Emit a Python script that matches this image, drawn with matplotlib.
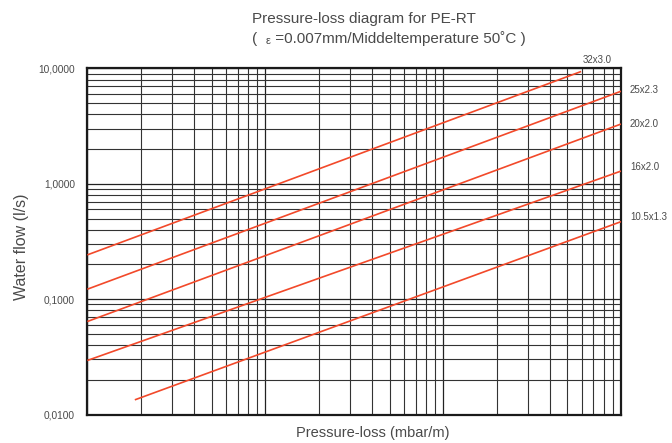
import matplotlib
matplotlib.use("Agg")
import matplotlib.pyplot as plt
from matplotlib.ticker import FixedLocator, LogLocator, NullFormatter

plt.rcParams['font.family'] = ['Liberation Sans', 'DejaVu Sans']

# ---- data ----
series_names = ["32x3.0", "25x2.3", "20x2.0", "16x2.0", "10.5x1.3"]
series_x = [
    [1.0, 597.0],
    [1.0, 1000.0],
    [1.0, 1000.0],
    [1.0, 1000.0],
    [1.85, 1000.0],
]
series_y = [
    [0.242, 9.42],
    [0.122, 6.35],
    [0.064, 3.30],
    [0.0294, 1.29],
    [0.0134, 0.47],
]
y_ticks = [0.01, 0.1, 1.0, 10.0]
y_tick_labels = ["0,0100", "0,1000", "1,0000", "10,0000"]
x_limits = [1.0, 1000.0]
y_limits = [0.01, 10.0]

# ---- style ----
W, H = 672, 443
fig = plt.figure(figsize=(W / 100, H / 100), dpi=100)
left, right, top, bottom = 87.3, 621.0, 68.5, 414.5
ax = fig.add_axes([left / W, 1 - bottom / H, (right - left) / W, (bottom - top) / H])

text_col = "#4a4a4a"
line_col = "#f2492a"
label_offsets = [(0.8, 8.4), (6.5, 0.8), (6.5, 0.0), (6.5, 2.8), (6.5, 3.6)]

ax.set_xscale("log")
ax.set_yscale("log")
ax.set_xlim(*x_limits)
ax.set_ylim(*y_limits)

ax.xaxis.set_major_locator(LogLocator(base=10, numticks=10))
ax.xaxis.set_minor_locator(LogLocator(base=10, subs=range(2, 10), numticks=100))
ax.yaxis.set_major_locator(FixedLocator(y_ticks))
ax.yaxis.set_minor_locator(LogLocator(base=10, subs=range(2, 10), numticks=100))
ax.xaxis.set_major_formatter(NullFormatter())
ax.xaxis.set_minor_formatter(NullFormatter())
ax.yaxis.set_minor_formatter(NullFormatter())
ax.set_yticklabels(y_tick_labels)

ax.grid(which="major", color="#222222", linewidth=0.9)
ax.grid(which="minor", color="#333333", linewidth=0.8)
ax.set_axisbelow(True)
ax.tick_params(which="both", length=0)
ax.tick_params(axis="y", labelsize=7.3, labelcolor=text_col, pad=9)

for sp in ax.spines.values():
    sp.set_linewidth(1.6)
    sp.set_color("#1a1a1a")

for name, xs, ys, off in zip(series_names, series_x, series_y, label_offsets):
    ax.plot(xs, ys, color=line_col, linewidth=1.2, solid_capstyle="butt", zorder=3)
    ax.annotate(name, xy=(xs[-1], ys[-1]), xytext=off, textcoords="offset points",
                ha="left", va="center", fontsize=7, color=text_col,
                annotation_clip=False)

ax.set_xlabel("Pressure-loss (mbar/m)", fontsize=10.5, color=text_col)
ax.xaxis.set_label_coords((373 - left) / (right - left), -(433 - bottom) / (bottom - top))
ax.xaxis.label.set_va("center")
ax.set_ylabel("Water flow (l/s)", fontsize=11.5, color=text_col)
ax.yaxis.set_label_coords(-(left - 22) / (right - left), (bottom - 247) / (bottom - top))
ax.yaxis.label.set_va("center")

# title, two left-aligned lines
fig.text(252 / W, 1 - 19 / H, "Pressure-loss diagram for PE-RT",
         fontsize=11, color=text_col, ha="left", va="center")
t1 = fig.text(252 / W, 1 - 46 / H, "(  ", fontsize=11, color=text_col,
              ha="left", va="bottom")
t2 = ax.annotate("ε", xy=(1, 0), xycoords=t1, xytext=(0, 0.3), textcoords="offset points",
                 fontsize=8, color=text_col, ha="left", va="bottom")
t3 = ax.annotate(" =0.007mm/Middeltemperature 50˚C )", xy=(1, 0), xycoords=t2,
                 xytext=(0, -0.3), textcoords="offset points",
                 fontsize=11, color=text_col, ha="left", va="bottom")

fig.savefig("out.png", dpi=100)
